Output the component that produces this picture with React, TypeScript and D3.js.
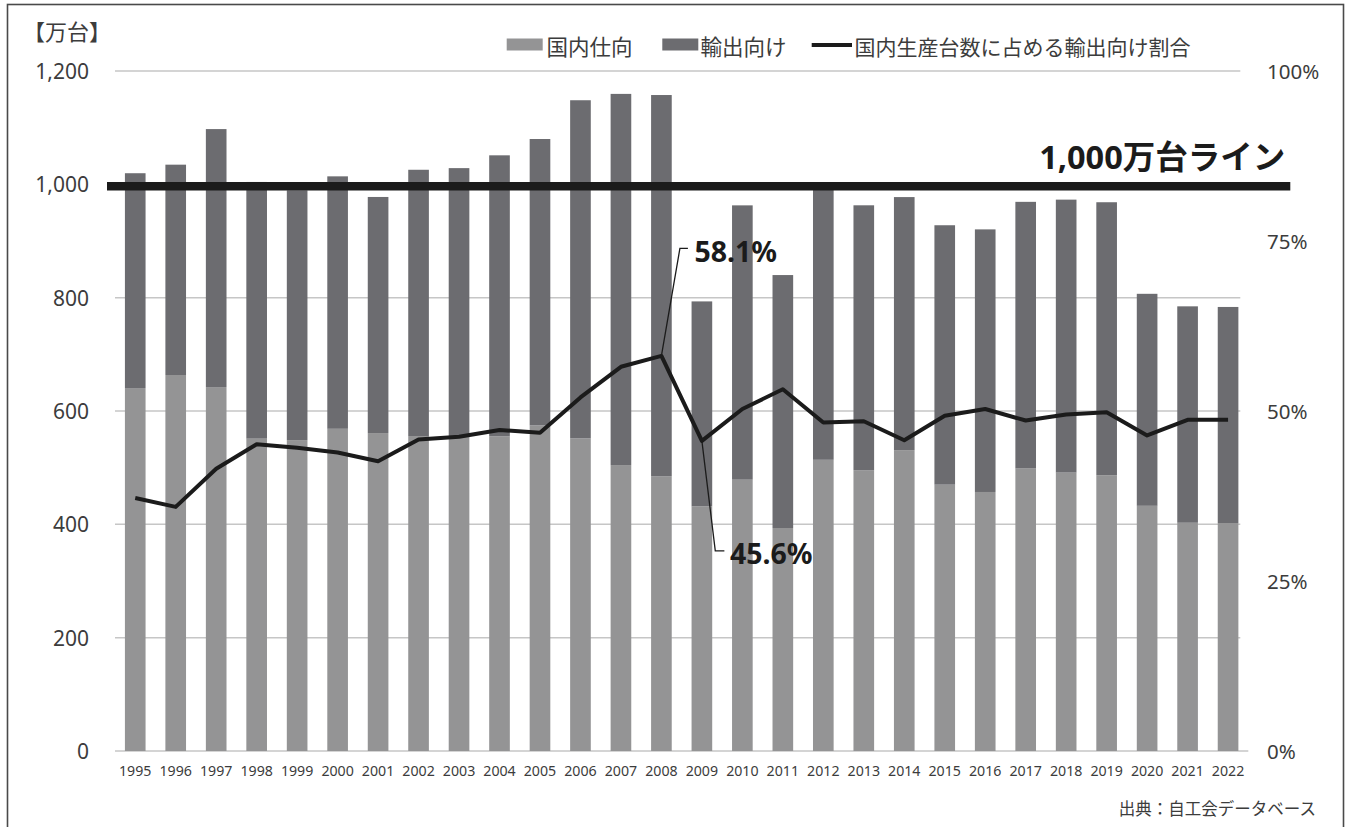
import React from 'react';
import * as d3 from 'd3';

// 国内生産台数の内訳（万台）
const years = [
  '1995', '1996', '1997', '1998', '1999', '2000', '2001', '2002', '2003', '2004',
  '2005', '2006', '2007', '2008', '2009', '2010', '2011', '2012', '2013', '2014',
  '2015', '2016', '2017', '2018', '2019', '2020', '2021', '2022',
];

const domestic = [
  640.5, 663.5, 642.2, 551.2, 548.6, 568.6, 561.1, 555.8, 553.0, 555.4,
  574.7, 551.7, 504.6, 484.9, 431.8, 478.8, 393.5, 513.9, 495.5, 530.9,
  470.0, 457.1, 498.5, 491.3, 486.6, 432.7, 402.8, 402.3,
];

const exportUnits = [
  379.1, 371.2, 455.3, 453.0, 440.9, 445.5, 416.6, 469.9, 475.6, 495.8,
  505.3, 596.7, 655.0, 672.7, 361.6, 484.1, 446.4, 480.4, 467.5, 446.6,
  457.8, 463.4, 470.6, 481.7, 481.8, 374.1, 381.9, 381.3,
];

// 国内生産台数に占める輸出向け割合（%）
const exportRatio = [
  37.2, 35.9, 41.5, 45.1, 44.6, 43.9, 42.6, 45.8, 46.2, 47.2,
  46.8, 52.0, 56.5, 58.1, 45.6, 50.3, 53.2, 48.3, 48.5, 45.7,
  49.3, 50.3, 48.6, 49.5, 49.8, 46.4, 48.7, 48.7,
];

const leftTicks = [0, 200, 400, 600, 800, 1000, 1200];
const rightTicks = [0, 25, 50, 75, 100];
const thresholdLine = [1000];
const calloutYears = ['2008', '2009'];

const legendLabels = ['国内仕向', '輸出向け', '国内生産台数に占める輸出向け割合'];

const W = 1346;
const H = 827;
const LEFT = 115;
const RIGHT = 1248.3;
const TOP = 71;
const BOTTOM = 751;

const C_DOMESTIC = '#949495';
const C_EXPORT = '#6c6c70';
const C_LINE = '#1b1b1b';
const C_TEXT = '#3c3c3c';
const C_GRID = '#c6c6c6';

const LATIN = "'Noto Sans', 'Noto Sans CJK JP', sans-serif";
const CJK = "'Noto Sans CJK JP', 'Noto Sans', sans-serif";

export default function App() {
  const x = d3
    .scaleBand<string>()
    .domain(years)
    .range([LEFT, RIGHT])
    .paddingInner(0.49)
    .paddingOuter(0.245);

  const yL = d3.scaleLinear().domain([0, 1200]).range([BOTTOM, TOP]);
  const yR = d3.scaleLinear().domain([0, 100]).range([BOTTOM, TOP]);

  const cx = (yr: string) => (x(yr) as number) + x.bandwidth() / 2;

  const linePath = d3
    .line<number>()
    .x((_, i) => cx(years[i]))
    .y((d) => yR(d))(exportRatio) as string;

  const fmt = d3.format(',');

  const peakIdx = years.indexOf(calloutYears[0]);
  const lowIdx = years.indexOf(calloutYears[1]);
  const peakX = cx(years[peakIdx]);
  const peakY = yR(exportRatio[peakIdx]);
  const lowX = cx(years[lowIdx]);
  const lowY = yR(exportRatio[lowIdx]);

  const legendY = 44.5;

  return (
    <svg
      width={W}
      height={H}
      viewBox={`0 0 ${W} ${H}`}
      style={{ position: 'absolute', left: 0, top: 0, background: '#fff' }}
    >
      <rect x={0} y={0} width={W} height={H} fill="#fff" />
      {/* frame */}
      <rect x={7.5} y={4.5} width={1336} height={840} fill="none" stroke="#4a4a4a" strokeWidth={1.6} />

      {/* unit */}
      <text x={23} y={30} fontFamily={CJK} fontSize={22} fill={C_TEXT} dominantBaseline="central">
        【万台】
      </text>

      {/* gridlines */}
      {leftTicks.map((t) => (
        <line
          key={`g${t}`}
          x1={LEFT}
          x2={t === 0 ? RIGHT : RIGHT - 8}
          y1={yL(t)}
          y2={yL(t)}
          stroke={C_GRID}
          strokeWidth={1.5}
        />
      ))}

      {/* left axis labels */}
      {leftTicks.map((t) => (
        <text
          key={`l${t}`}
          x={89}
          y={yL(t)}
          textAnchor="end"
          dominantBaseline="central"
          fontFamily={LATIN}
          fontSize={21}
          fill={C_TEXT}
        >
          {fmt(t)}
        </text>
      ))}

      {/* right axis labels */}
      {rightTicks.map((t) => (
        <text
          key={`r${t}`}
          x={1267}
          y={yR(t)}
          textAnchor="start"
          dominantBaseline="central"
          fontFamily={LATIN}
          fontSize={20.5}
          fill={C_TEXT}
        >
          {`${t}%`}
        </text>
      ))}

      {/* stacked bars */}
      {years.map((yr, i) => (
        <g key={`b${yr}`}>
          <rect
            x={x(yr)}
            width={x.bandwidth()}
            y={yL(domestic[i])}
            height={yL(0) - yL(domestic[i])}
            fill={C_DOMESTIC}
          />
          <rect
            x={x(yr)}
            width={x.bandwidth()}
            y={yL(domestic[i] + exportUnits[i])}
            height={yL(domestic[i]) - yL(domestic[i] + exportUnits[i])}
            fill={C_EXPORT}
          />
        </g>
      ))}

      {/* year labels */}
      {years.map((yr) => (
        <text
          key={`x${yr}`}
          x={cx(yr)}
          y={776}
          textAnchor="middle"
          fontFamily={LATIN}
          fontSize={14.2}
          fill={C_TEXT}
        >
          {yr}
        </text>
      ))}

      {/* 1,000万台 line */}
      {thresholdLine.map((v) => (
        <g key={`t${v}`}>
          <line
            x1={LEFT - 8}
            x2={RIGHT + 42}
            y1={yL(v) + 2}
            y2={yL(v) + 2}
            stroke={C_LINE}
            strokeWidth={8.5}
          />
          <text
            x={RIGHT + 37}
            y={yL(v) - 15}
            textAnchor="end"
            fontFamily={LATIN}
            fontWeight={700}
            fontSize={32.5}
            fill={C_LINE}
          >
            {`${fmt(v)}万台ライン`}
          </text>
        </g>
      ))}

      {/* export ratio line */}
      <path d={linePath} fill="none" stroke={C_LINE} strokeWidth={4} strokeLinejoin="round" />

      {/* callouts */}
      <polyline
        points={`${peakX},${peakY} ${peakX + 18.5},${peakY - 107.5} ${peakX + 26.5},${peakY - 107.5}`}
        fill="none"
        stroke={C_LINE}
        strokeWidth={1.3}
      />
      <text
        x={peakX + 33}
        y={peakY - 94}
        fontFamily={LATIN}
        fontWeight={700}
        fontSize={28.5}
        fill={C_LINE}
      >
        {`${exportRatio[peakIdx].toFixed(1)}%`}
      </text>
      <polyline
        points={`${lowX},${lowY} ${lowX + 13.4},${lowY + 110} ${lowX + 22.5},${lowY + 110}`}
        fill="none"
        stroke={C_LINE}
        strokeWidth={1.3}
      />
      <text
        x={lowX + 28}
        y={lowY + 123.5}
        fontFamily={LATIN}
        fontWeight={700}
        fontSize={28.5}
        fill={C_LINE}
      >
        {`${exportRatio[lowIdx].toFixed(1)}%`}
      </text>

      {/* legend */}
      <rect x={506.7} y={legendY - 6} width={36} height={12} fill={C_DOMESTIC} />
      <text x={546.5} y={legendY + 1} dominantBaseline="central" fontFamily={CJK} fontSize={21.5} fill={C_TEXT}>
        {legendLabels[0]}
      </text>
      <rect x={662.3} y={legendY - 6} width={36} height={12} fill={C_EXPORT} />
      <text x={700.5} y={legendY + 1} dominantBaseline="central" fontFamily={CJK} fontSize={21.5} fill={C_TEXT}>
        {legendLabels[1]}
      </text>
      <line x1={811.7} x2={852} y1={legendY + 0.5} y2={legendY + 0.5} stroke={C_LINE} strokeWidth={4} />
      <text x={854.5} y={legendY + 1} dominantBaseline="central" fontFamily={CJK} fontSize={21} fill={C_TEXT}>
        {legendLabels[2]}
      </text>

      {/* source */}
      <text x={1316} y={815} textAnchor="end" fontFamily={CJK} fontSize={16.5} fill={C_TEXT}>
        出典：自工会データベース
      </text>
    </svg>
  );
}
